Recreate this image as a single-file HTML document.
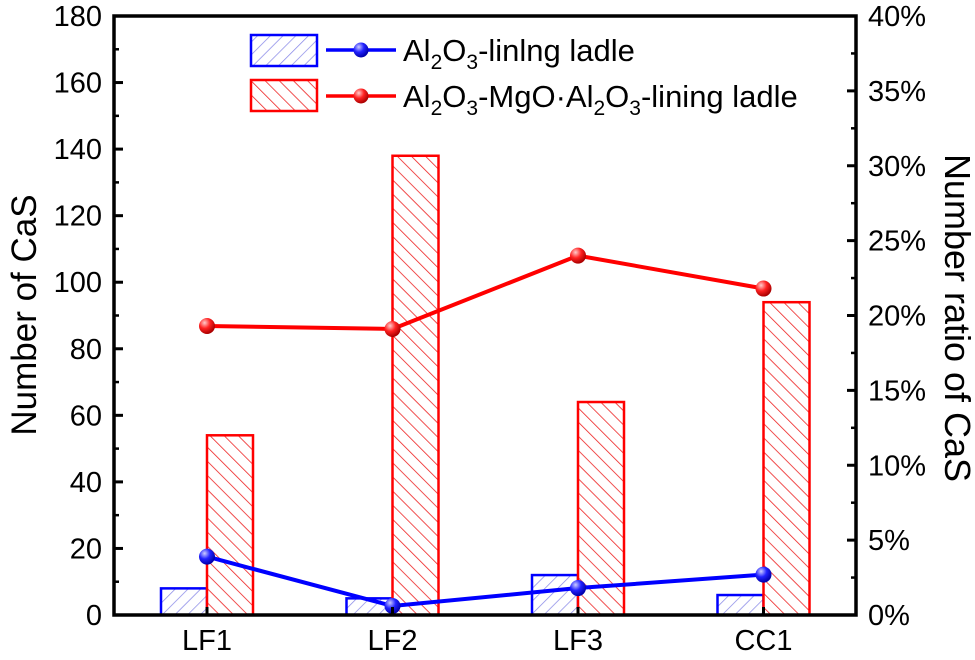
<!DOCTYPE html>
<html><head><meta charset="utf-8"><style>
body{margin:0;background:#fff}
svg text{font-family:"Liberation Sans",Arial,sans-serif;fill:#000}
</style></head><body>
<svg width="975" height="655" viewBox="0 0 975 655">
<defs>
<pattern id="hb" width="9" height="9" patternUnits="userSpaceOnUse" patternTransform="rotate(45)"><rect width="9" height="9" fill="#fff"/><line x1="0" y1="0" x2="0" y2="9" stroke="#8b8be8" stroke-width="1.5"/></pattern>
<pattern id="hr" width="10" height="10" patternUnits="userSpaceOnUse" patternTransform="rotate(-45)"><rect width="10" height="10" fill="#fff"/><line x1="0" y1="0" x2="0" y2="10" stroke="#e22" stroke-width="1.6"/></pattern>
<radialGradient id="gb" cx="0.35" cy="0.3" r="0.7"><stop offset="0" stop-color="#ccf"/><stop offset="0.5" stop-color="#22f"/><stop offset="1" stop-color="#00a"/></radialGradient>
<radialGradient id="gr" cx="0.35" cy="0.3" r="0.7"><stop offset="0" stop-color="#fcc"/><stop offset="0.5" stop-color="#f22"/><stop offset="1" stop-color="#a00"/></radialGradient>
</defs>
<g id="bars"></g><g id="lines"></g><g id="axes"></g>
<g>
<rect x="251" y="35" width="66" height="31" fill="url(#hb)" stroke="#00f" stroke-width="2.5"/>
<line x1="326" y1="50" x2="396" y2="50" stroke="#00f" stroke-width="3.5"/><circle cx="361" cy="50" r="7.5" fill="url(#gb)"/>
<text x="403" y="61" font-size="31">Al<tspan font-size="21" dy="8">2</tspan><tspan dy="-8">O</tspan><tspan font-size="21" dy="8">3</tspan><tspan dy="-8">-linlng ladle</tspan></text>
<rect x="251" y="80" width="66" height="31" fill="url(#hr)" stroke="#f00" stroke-width="2.5"/>
<line x1="326" y1="96" x2="396" y2="96" stroke="#f00" stroke-width="3.5"/><circle cx="361" cy="96" r="7.5" fill="url(#gr)"/>
<text x="403" y="107" font-size="31">Al<tspan font-size="21" dy="8">2</tspan><tspan dy="-8">O</tspan><tspan font-size="21" dy="8">3</tspan><tspan dy="-8">-MgO·Al</tspan><tspan font-size="21" dy="8">2</tspan><tspan dy="-8">O</tspan><tspan font-size="21" dy="8">3</tspan><tspan dy="-8">-lining ladle</tspan></text>
</g>
<text transform="translate(36,315) rotate(-90)" text-anchor="middle" font-size="35">Number of CaS</text>
<text transform="translate(945,318) rotate(90)" text-anchor="middle" font-size="36">Number ratio of CaS</text>
</svg>
<script>
const categories=["LF1","LF2","LF3","CC1"];
const countAl2O3=[8,5,12,6];
const countMgO=[54,138,64,94];
const ratioAl2O3=[3.9,0.6,1.8,2.7];
const ratioMgO=[19.3,19.1,24.0,21.8];
const leftTicks=[0,20,40,60,80,100,120,140,160,180];
const rightTicks=[0,5,10,15,20,25,30,35,40];
const NS="http://www.w3.org/2000/svg";
const L=114,R=856,T=16,B=615;
const y=v=>B-v/180*(B-T);
const y2=v=>B-v/40*(B-T);
const cx=i=>207+i*185.5;
const BW=46;
function mk(tag,at,parent){const e=document.createElementNS(NS,tag);for(const k in at)e.setAttribute(k,at[k]);document.getElementById(parent).appendChild(e);return e;}
categories.forEach((c,i)=>{
 let e=mk("rect",{x:cx(i)-BW,y:y(countAl2O3[i]),width:BW,height:B-y(countAl2O3[i]),fill:"url(#hb)",stroke:"#00f","stroke-width":2.5},"bars");
 
 
 e=mk("rect",{x:cx(i),y:y(countMgO[i]),width:BW,height:B-y(countMgO[i]),fill:"url(#hr)",stroke:"#f00","stroke-width":2.5},"bars");
 
 
});
[[ratioAl2O3,"#00f","url(#gb)","al2o3"],[ratioMgO,"#f00","url(#gr)","mgo"]].forEach(([d,col,g,n])=>{
 const p=mk("polyline",{points:d.map((v,i)=>cx(i)+","+y2(v)).join(" "),fill:"none",stroke:col,"stroke-width":4},"lines");
 
 
 d.forEach((v,i)=>{const c=mk("circle",{cx:cx(i),cy:y2(v),r:8,fill:g},"lines");
 
 });
});
const f=mk("rect",{x:L,y:T,width:R-L,height:B-T,fill:"none",stroke:"#000","stroke-width":3.5},"axes");


leftTicks.forEach(v=>{
 mk("line",{x1:L,x2:L+9,y1:y(v),y2:y(v),stroke:"#000","stroke-width":3},"axes");
 if(v<180)mk("line",{x1:L,x2:L+5,y1:y(v+10),y2:y(v+10),stroke:"#000","stroke-width":2.5},"axes");
 const t=mk("text",{x:L-12,y:y(v)+10,"text-anchor":"end","font-size":29},"axes");t.textContent=v;
 
 
});
rightTicks.forEach(v=>{
 mk("line",{x1:R,x2:R-9,y1:y2(v),y2:y2(v),stroke:"#000","stroke-width":3},"axes");
 if(v<40)mk("line",{x1:R,x2:R-5,y1:y2(v+2.5),y2:y2(v+2.5),stroke:"#000","stroke-width":2.5},"axes");
 const t=mk("text",{x:R+12,y:y2(v)+10,"font-size":29},"axes");t.textContent=v+"%";
 
 
});
categories.forEach((c,i)=>{
 mk("line",{x1:cx(i),x2:cx(i),y1:B,y2:B-8,stroke:"#000","stroke-width":3},"axes");
 const t=mk("text",{x:cx(i),y:650,"text-anchor":"middle","font-size":29},"axes");t.textContent=c;
 
 
});
</script>
</body></html>
